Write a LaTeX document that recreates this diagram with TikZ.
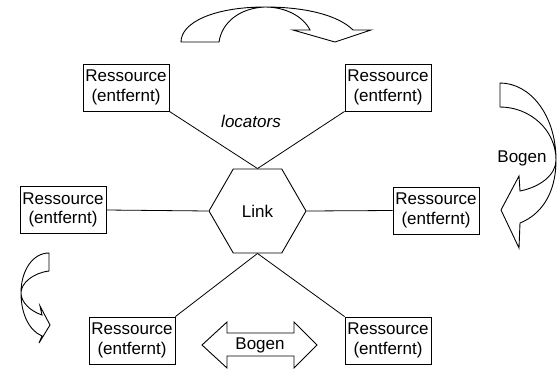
\documentclass[tikz,border=0pt]{standalone}
\usepackage{fontspec}
\setmainfont{Liberation Sans}
\usetikzlibrary{shapes.geometric}
\tikzset{
  res/.style={draw, line width=0.9pt, minimum width=86pt, minimum height=47pt, inner sep=0pt, align=center, font=\fontsize{17}{19.5}\selectfont},
  hexa/.style={draw, line width=0.9pt, regular polygon, regular polygon sides=6, minimum size=97pt, inner sep=0pt, font=\fontsize{17}{19.5}\selectfont},
  conn/.style={line width=0.8pt},
  bigarrow/.style={line width=0.9pt, line join=miter},
  lbl/.style={inner sep=0pt, font=\fontsize{17}{19.5}\selectfont}
}
\begin{document}
\begin{tikzpicture}[x=1pt,y=-1pt]
\useasboundingbox (0,0) rectangle (560,368);
% resources
\node[res] (tl) at (126,87.5) {Ressource\\(entfernt)};
\node[res] (tr) at (388,87.5) {Ressource\\(entfernt)};
\node[res] (ml) at (63,210) {Ressource\\(entfernt)};
\node[res] (mr) at (436,210.5) {Ressource\\(entfernt)};
\node[res] (bl) at (132,340.5) {Ressource\\(entfernt)};
\node[res] (br) at (388,340.5) {Ressource\\(entfernt)};
% link
\node[hexa] (hex) at (257.5,211) {Link};
% connectors
\draw[conn] (tl.south east) -- (hex.north);
\draw[conn] (tr.south west) -- (hex.north);
\draw[conn] (ml.east) -- (hex.west);
\draw[conn] (hex.east) -- (mr.west);
\draw[conn] (hex.south) -- (bl.north east);
\draw[conn] (hex.south) -- (br.north west);
\node[lbl] (loc) at (251,121) {\itshape locators};
% top curved arrow
\draw[bigarrow] (181,42) -- (219,42)
  .. controls (222,22) and (240,8) .. (265,7)
  .. controls (285,7) and (303,16) .. (310,30)
  -- (293,30) -- (335,42) -- (371,30) -- (353,30)
  .. controls (338,15) and (305,7) .. (265,7)
  .. controls (215,7) and (181,22) .. cycle;
% right curved arrow
\draw[bigarrow] (500,83) -- (500,107)
  .. controls (530,107) and (556,130) .. (556,160)
  .. controls (556,175) and (540,187) .. (520,191)
  -- (519,176) -- (501,210) -- (519,248) -- (520,223)
  .. controls (540,215) and (556,195) .. (556,160)
  .. controls (556,115) and (530,83) .. cycle;
\node[lbl] (bogen1) at (522,158) {Bogen};
% left curved arrow
\draw[bigarrow] (49,253) -- (49,271)
  .. controls (33,273) and (21,283) .. (21,293)
  .. controls (21,302) and (30,311) .. (42,315)
  -- (40,306) -- (50,325) -- (39,343) -- (42,336)
  .. controls (28,330) and (21,312) .. (21,293)
  .. controls (21,270) and (33,253) .. cycle;
% double arrow
\draw[bigarrow] (202,345) -- (227,322) -- (227,333) -- (294,333) -- (294,322)
  -- (317,345) -- (294,368) -- (294,356) -- (227,356) -- (227,368) -- cycle;
\node[lbl] (bogen2) at (260,345) {Bogen};
\end{tikzpicture}
\end{document}
